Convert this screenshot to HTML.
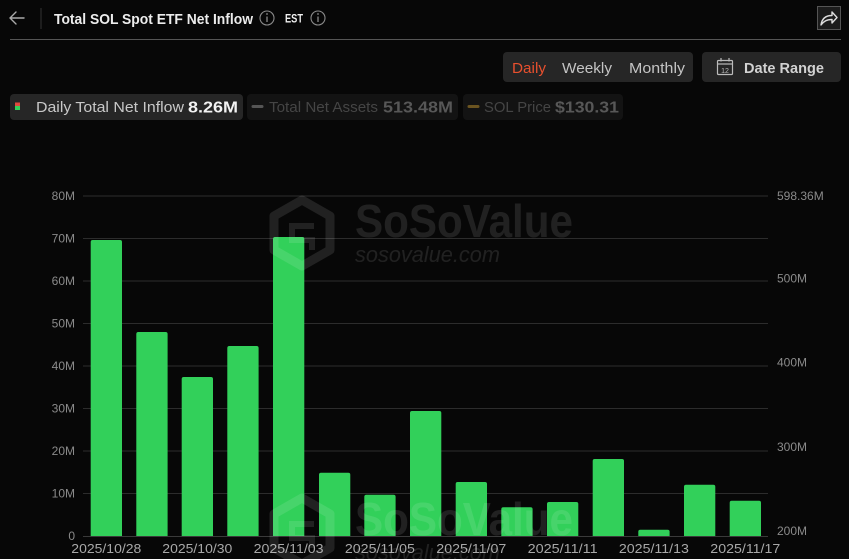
<!DOCTYPE html>
<html><head><meta charset="utf-8"><style>
html,body{margin:0;padding:0;background:#070707;}
svg{display:block;font-family:"Liberation Sans",sans-serif;}
</style></head><body>
<svg width="849" height="559" viewBox="0 0 849 559" xmlns="http://www.w3.org/2000/svg">
<rect width="849" height="559" fill="#070707"/>
<!-- header -->
<g stroke="#aaa" stroke-width="1.4" fill="none" stroke-linecap="round" stroke-linejoin="round">
<path d="M10 18 H24 M10 18 L16 12 M10 18 L16 24"/>
</g>
<line x1="41" y1="8" x2="41" y2="29" stroke="#333" stroke-width="1"/>
<text x="54" y="24" font-size="15" font-weight="bold" fill="#ececec" textLength="199" lengthAdjust="spacingAndGlyphs">Total SOL Spot ETF Net Inflow</text>
<circle cx="267" cy="18" r="7" fill="none" stroke="#8a8a8a" stroke-width="1.1"/>
<line x1="267" y1="16.5" x2="267" y2="22" stroke="#8a8a8a" stroke-width="1.3"/>
<circle cx="267" cy="14" r="0.9" fill="#8a8a8a"/>
<text x="285" y="22.5" font-size="12" font-weight="bold" fill="#f0f0f0" textLength="18" lengthAdjust="spacingAndGlyphs">EST</text>
<circle cx="318" cy="18" r="7" fill="none" stroke="#8a8a8a" stroke-width="1.1"/>
<line x1="318" y1="16.5" x2="318" y2="22" stroke="#8a8a8a" stroke-width="1.3"/>
<circle cx="318" cy="14" r="0.9" fill="#8a8a8a"/>
<line x1="10" y1="39.5" x2="841" y2="39.5" stroke="#555" stroke-width="1"/>
<rect x="817.5" y="6.5" width="23" height="23" fill="#1c1c1c" stroke="#555" stroke-width="1"/>
<path d="M821 25 C822 18 826 15.5 832 15.5 V12 L837 17.5 L832 23 V19.5 C827 19.5 824 21 821 25 Z" fill="none" stroke="#ddd" stroke-width="1.4" stroke-linejoin="round"/>

<!-- period buttons -->
<rect x="503" y="52" width="190" height="30" rx="4" fill="#262626"/>
<text x="512" y="73" font-size="15" fill="#e8502e" textLength="34" lengthAdjust="spacingAndGlyphs">Daily</text>
<text x="562" y="73" font-size="15" fill="#c4c4c4" textLength="50" lengthAdjust="spacingAndGlyphs">Weekly</text>
<text x="629" y="73" font-size="15" fill="#c4c4c4" textLength="56" lengthAdjust="spacingAndGlyphs">Monthly</text>
<rect x="702" y="52" width="139" height="30" rx="4" fill="#262626"/>
<g stroke="#bbb" stroke-width="1.2" fill="none">
<rect x="717.5" y="60.5" width="15" height="14" rx="1"/>
<line x1="717.5" y1="64" x2="732.5" y2="64"/>
<line x1="721" y1="58" x2="721" y2="61.5"/>
<line x1="729" y1="58" x2="729" y2="61.5"/>
</g>
<text x="725" y="73" font-size="7" fill="#bbb" text-anchor="middle">12</text>
<text x="744" y="73" font-size="15" font-weight="bold" fill="#d2d2d2" textLength="80" lengthAdjust="spacingAndGlyphs">Date Range</text>

<!-- legend -->
<rect x="10" y="94" width="233" height="26" rx="4" fill="#262626"/>
<rect x="15" y="102.5" width="5" height="3.5" fill="#e0483e"/>
<rect x="15" y="106" width="5" height="4" fill="#32d05a"/>
<text x="36" y="112" font-size="15" fill="#c8c8c8" textLength="148" lengthAdjust="spacingAndGlyphs">Daily Total Net Inflow</text>
<text x="188" y="112.5" font-size="16" font-weight="bold" fill="#f2f2f2" textLength="50" lengthAdjust="spacingAndGlyphs">8.26M</text>
<rect x="247" y="94" width="211" height="26" rx="4" fill="#131313"/>
<line x1="253" y1="106.5" x2="262" y2="106.5" stroke="#555" stroke-width="3" stroke-linecap="round"/>
<text x="269" y="112" font-size="15" fill="#454545" textLength="109" lengthAdjust="spacingAndGlyphs">Total Net Assets</text>
<text x="383" y="112.5" font-size="16" font-weight="bold" fill="#575757" textLength="70" lengthAdjust="spacingAndGlyphs">513.48M</text>
<rect x="463" y="94" width="160" height="26" rx="4" fill="#131313"/>
<line x1="469" y1="106.5" x2="478" y2="106.5" stroke="#6b5420" stroke-width="3" stroke-linecap="round"/>
<text x="484" y="112" font-size="15" fill="#454545" textLength="67" lengthAdjust="spacingAndGlyphs">SOL Price</text>
<text x="555" y="112.5" font-size="16" font-weight="bold" fill="#575757" textLength="64" lengthAdjust="spacingAndGlyphs">$130.31</text>

<!-- grid -->
<g stroke="#2c2c2c" stroke-width="1">
<line x1="83" y1="196" x2="768" y2="196"/>
<line x1="83" y1="238.5" x2="768" y2="238.5"/>
<line x1="83" y1="281" x2="768" y2="281"/>
<line x1="83" y1="323.5" x2="768" y2="323.5"/>
<line x1="83" y1="366" x2="768" y2="366"/>
<line x1="83" y1="408.5" x2="768" y2="408.5"/>
<line x1="83" y1="451" x2="768" y2="451"/>
<line x1="83" y1="493.5" x2="768" y2="493.5"/>
</g>
<line x1="83" y1="536.5" x2="768" y2="536.5" stroke="#3a3a3a" stroke-width="1"/>

<g font-size="12" fill="#8a8a8a" text-anchor="end">
<text x="75" y="200">80M</text>
<text x="75" y="242.5">70M</text>
<text x="75" y="285">60M</text>
<text x="75" y="327.5">50M</text>
<text x="75" y="370">40M</text>
<text x="75" y="412.5">30M</text>
<text x="75" y="455">20M</text>
<text x="75" y="497.5">10M</text>
<text x="75" y="540">0</text>
</g>
<g font-size="12" fill="#8a8a8a">
<text x="777" y="200">598.36M</text>
<text x="777" y="282.5">500M</text>
<text x="777" y="366.5">400M</text>
<text x="777" y="451">300M</text>
<text x="777" y="535">200M</text>
</g>

<!-- bars -->
<g fill="#32d05a">
<path d="M90.7 536 V242 Q90.7 240 92.7 240 H120 Q122 240 122 242 V536 Z"/>
<path d="M136.3 536 V334 Q136.3 332 138.3 332 H165.6 Q167.6 332 167.6 334 V536 Z"/>
<path d="M181.7 536 V379 Q181.7 377 183.7 377 H211 Q213 377 213 379 V536 Z"/>
<path d="M227.3 536 V348 Q227.3 346 229.3 346 H256.6 Q258.6 346 258.6 348 V536 Z"/>
<path d="M273 536 V239 Q273 237 275 237 H302.3 Q304.3 237 304.3 239 V536 Z"/>
<path d="M319 536 V474.7 Q319 472.7 321 472.7 H348.3 Q350.3 472.7 350.3 474.7 V536 Z"/>
<path d="M364.3 536 V496.7 Q364.3 494.7 366.3 494.7 H393.6 Q395.6 494.7 395.6 496.7 V536 Z"/>
<path d="M410 536 V413 Q410 411 412 411 H439.3 Q441.3 411 441.3 413 V536 Z"/>
<path d="M455.7 536 V484 Q455.7 482 457.7 482 H485 Q487 482 487 484 V536 Z"/>
<path d="M501.3 536 V509.3 Q501.3 507.3 503.3 507.3 H530.6 Q532.6 507.3 532.6 509.3 V536 Z"/>
<path d="M547 536 V504 Q547 502 549 502 H576.3 Q578.3 502 578.3 504 V536 Z"/>
<path d="M592.7 536 V461 Q592.7 459 594.7 459 H622 Q624 459 624 461 V536 Z"/>
<path d="M638.3 536 V531.5 Q638.3 529.7 640.3 529.7 H667.6 Q669.6 529.7 669.6 531.5 V536 Z"/>
<path d="M684 536 V486.7 Q684 484.7 686 484.7 H713.3 Q715.3 484.7 715.3 486.7 V536 Z"/>
<path d="M729.7 536 V502.7 Q729.7 500.7 731.7 500.7 H759 Q761 500.7 761 502.7 V536 Z"/>
</g>

<!-- x labels -->
<g font-size="13" fill="#a8a8a8" text-anchor="middle">
<text x="106.3" y="553" textLength="70" lengthAdjust="spacingAndGlyphs">2025/10/28</text>
<text x="197.3" y="553" textLength="70" lengthAdjust="spacingAndGlyphs">2025/10/30</text>
<text x="288.6" y="553" textLength="70" lengthAdjust="spacingAndGlyphs">2025/11/03</text>
<text x="379.9" y="553" textLength="70" lengthAdjust="spacingAndGlyphs">2025/11/05</text>
<text x="471.3" y="553" textLength="70" lengthAdjust="spacingAndGlyphs">2025/11/07</text>
<text x="562.6" y="553" textLength="70" lengthAdjust="spacingAndGlyphs">2025/11/11</text>
<text x="653.9" y="553" textLength="70" lengthAdjust="spacingAndGlyphs">2025/11/13</text>
<text x="745.3" y="553" textLength="70" lengthAdjust="spacingAndGlyphs">2025/11/17</text>
</g>

<!-- watermarks -->
<g opacity="0.1">
<path d="M302 200 L330 216 L330 250 L302 266 L274 250 L274 216 Z" fill="none" stroke="#fff" stroke-width="9" stroke-linejoin="round"/>
<path d="M314 226 H292 V240 H312 V250" fill="none" stroke="#fff" stroke-width="6"/>
<text x="355" y="237" font-size="46" font-weight="bold" fill="#fff" textLength="218" lengthAdjust="spacingAndGlyphs">SoSoValue</text>
<text x="355" y="262" font-size="22" font-style="italic" fill="#fff" textLength="145" lengthAdjust="spacingAndGlyphs">sosovalue.com</text>
</g>
<g opacity="0.1" transform="translate(0,298)">
<path d="M302 200 L330 216 L330 250 L302 266 L274 250 L274 216 Z" fill="none" stroke="#fff" stroke-width="9" stroke-linejoin="round"/>
<path d="M314 226 H292 V240 H312 V250" fill="none" stroke="#fff" stroke-width="6"/>
<text x="355" y="237" font-size="46" font-weight="bold" fill="#fff" textLength="218" lengthAdjust="spacingAndGlyphs">SoSoValue</text>
<text x="355" y="262" font-size="22" font-style="italic" fill="#fff" textLength="145" lengthAdjust="spacingAndGlyphs">sosovalue.com</text>
</g>
</svg>
</body></html>
